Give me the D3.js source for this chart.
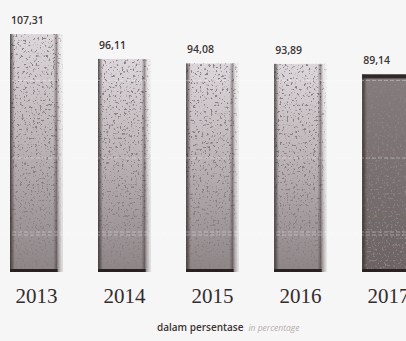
<!DOCTYPE html>
<html>
<head>
<meta charset="utf-8">
<script src="https://cdn.jsdelivr.net/npm/d3@7"></script>
<style>
  html, body { margin: 0; padding: 0; background: #f7f6f6; }
  svg { display: block; }
</style>
</head>
<body>
<svg id="chart" width="406" height="341"></svg>
<script>
// Yearly values, in percent
const years = ["2013", "2014", "2015", "2016", "2017"];
const values = [107.31, 96.11, 94.08, 93.89, 89.14];
const valueLabels = ["107,31", "96,11", "94,08", "93,89", "89,14"];
const highlightYear = "2017";

const svg = d3.select("#chart");
const W = 406, H = 341;
const baseY = 272;

const x = d3.scaleBand()
  .domain(years)
  .range([10, 415])
  .paddingInner(0.4)
  .paddingOuter(0);

const y = d3.scaleLinear()
  .domain([0, 120])
  .range([baseY, 6]);

const defs = svg.append("defs");

// light bars: pale at the top, darker toward the base
const gLight = defs.append("linearGradient")
  .attr("id", "gLight").attr("x1", 0).attr("x2", 0).attr("y1", 0).attr("y2", 1);
gLight.append("stop").attr("offset", "0%").attr("stop-color", "#ddd6da");
gLight.append("stop").attr("offset", "45%").attr("stop-color", "#bcb4b7");
gLight.append("stop").attr("offset", "100%").attr("stop-color", "#8d8486");

// highlighted bar: darker overall
const gDark = defs.append("linearGradient")
  .attr("id", "gDark").attr("x1", 0).attr("x2", 0).attr("y1", 0).attr("y2", 1);
gDark.append("stop").attr("offset", "0%").attr("stop-color", "#857c7d");
gDark.append("stop").attr("offset", "100%").attr("stop-color", "#6c6364");

// right edge fades out, left edge is shaded
const gSide = defs.append("linearGradient")
  .attr("id", "gSide").attr("x1", 0).attr("x2", 1).attr("y1", 0).attr("y2", 0);
gSide.append("stop").attr("offset", "0%").attr("stop-color", "#2e2626").attr("stop-opacity", 0.8);
gSide.append("stop").attr("offset", "9%").attr("stop-color", "#2e2626").attr("stop-opacity", 0.0);
gSide.append("stop").attr("offset", "82%").attr("stop-color", "#2e2626").attr("stop-opacity", 0.0);
gSide.append("stop").attr("offset", "88%").attr("stop-color", "#2e2626").attr("stop-opacity", 0.4);
gSide.append("stop").attr("offset", "93%").attr("stop-color", "#ffffff").attr("stop-opacity", 0.3);
gSide.append("stop").attr("offset", "100%").attr("stop-color", "#f7f6f6").attr("stop-opacity", 0.9);

// printed-paper grain: sparse dark specks
const grain = defs.append("filter").attr("id", "grain")
  .attr("x", 0).attr("y", 0).attr("width", 1).attr("height", 1);
grain.append("feTurbulence").attr("type", "fractalNoise")
  .attr("baseFrequency", 0.45).attr("numOctaves", 2).attr("seed", 7).attr("result", "noise");
grain.append("feColorMatrix").attr("in", "noise").attr("type", "matrix")
  .attr("values", "0 0 0 0 0.25  0 0 0 0 0.22  0 0 0 0 0.22  0 0 0 -9 3.6")
  .attr("result", "spots");
grain.append("feComposite").attr("in", "spots").attr("in2", "SourceGraphic").attr("operator", "atop");

const data = years.map((yr, i) => ({ year: yr, value: values[i], label: valueLabels[i] }));

const bars = svg.append("g").selectAll("g").data(data).join("g");

bars.append("rect")
  .attr("x", d => x(d.year))
  .attr("y", d => y(d.value))
  .attr("width", x.bandwidth())
  .attr("height", d => baseY - y(d.value))
  .attr("fill", d => d.year === highlightYear ? "url(#gDark)" : "url(#gLight)")
  .attr("filter", "url(#grain)");

bars.append("rect")
  .attr("x", d => x(d.year))
  .attr("y", d => y(d.value))
  .attr("width", x.bandwidth())
  .attr("height", d => baseY - y(d.value))
  .attr("fill", "url(#gSide)");

// dark base edge
bars.append("rect")
  .attr("x", d => x(d.year))
  .attr("y", baseY - 3)
  .attr("width", x.bandwidth() * 0.9)
  .attr("height", 3)
  .attr("fill", "#2a2222");

// dark cap on the highlighted bar
bars.filter(d => d.year === highlightYear).append("rect")
  .attr("x", d => x(d.year))
  .attr("y", d => y(d.value))
  .attr("width", x.bandwidth())
  .attr("height", 4)
  .attr("fill", "#2f2929");

// faint light streaks across the bars
svg.append("g").selectAll("line").data([y(89.14) + 6, 158, 232, 235]).join("line")
  .attr("x1", 0).attr("x2", W)
  .attr("y1", d => d).attr("y2", d => d)
  .attr("stroke", "#ffffff").attr("stroke-opacity", 0.45)
  .attr("stroke-width", 0.8)
  .attr("stroke-dasharray", "4 2");

// value labels
bars.append("text")
  .attr("x", d => x(d.year) + 1)
  .attr("y", d => y(d.value) - 13)
  .attr("dominant-baseline", "middle")
  .attr("font-family", "'Open Sans', 'Noto Sans', sans-serif")
  .attr("font-weight", 600)
  .attr("font-size", 10.5)
  .attr("fill", "#3a3434")
  .text(d => d.label);

// year axis
const axis = svg.append("g")
  .attr("transform", `translate(0,${baseY})`)
  .call(d3.axisBottom(x).tickSize(0).tickPadding(16));
axis.select(".domain").remove();
axis.selectAll("text")
  .attr("font-family", "'Liberation Serif', 'DejaVu Serif', serif")
  .attr("font-size", 21)
  .attr("fill", "#332c2c");

// unit note
const note = svg.append("text")
  .attr("x", 157)
  .attr("y", 331)
  .attr("font-family", "'Open Sans', 'Noto Sans', sans-serif")
  .attr("font-size", 10)
  .attr("fill", "#3a3434");
note.append("tspan").attr("font-weight", 600).text("dalam persentase");
note.append("tspan").attr("dx", 5).attr("font-style", "italic")
  .attr("font-size", 8.5).attr("fill", "#b3adad").text("in percentage");
</script>
</body>
</html>
